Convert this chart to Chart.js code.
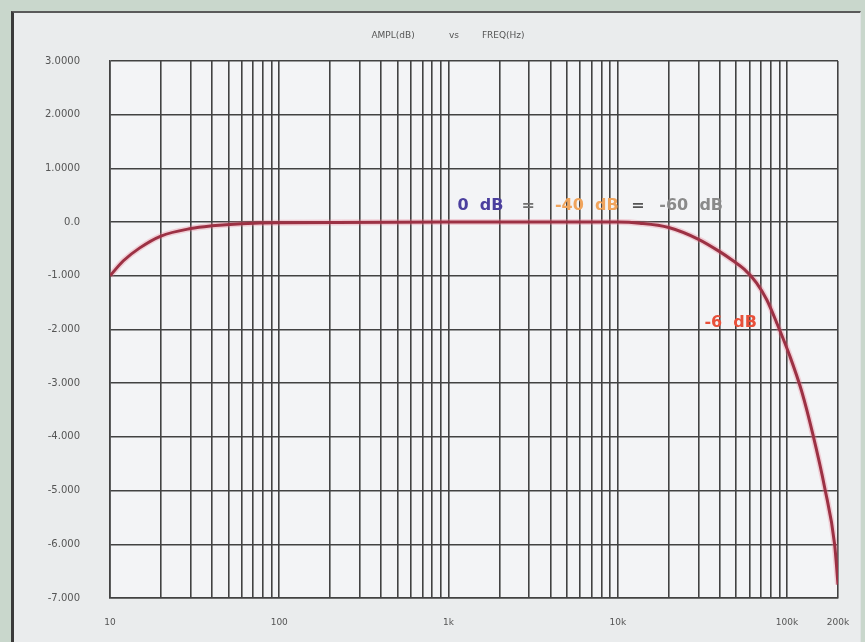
<!DOCTYPE html>
<html>
<head>
<meta charset="utf-8">
<script src="https://cdn.jsdelivr.net/npm/chart.js@4/dist/chart.umd.min.js"></script>
<style>
  html, body { margin: 0; padding: 0; }
  body { width: 865px; height: 642px; background: #c9d7cc; position: relative; overflow: hidden; }
  #frame { position: absolute; left: 11px; top: 11px; width: 846px; height: 640px;
           background: #eaeced; border-left: 3px solid #3a3a3a; border-top: 2px solid #5a5a5a;
           border-right: 1px solid #dfe3e3; }
  #myChart { position: absolute; left: 0; top: 0; }
</style>
</head>
<body>
<div id="frame"></div>
<canvas id="myChart" width="865" height="642"></canvas>
<script>
// amplitude response
var freqs = [10, 12, 15, 20, 30, 40, 60, 100, 1000, 10000, 13500, 20000, 30000, 40000, 48000, 56000, 66000, 76000, 87000, 104000, 122000, 142000, 167000, 191000, 200000];
var ampl  = [-1.0, -0.72, -0.48, -0.26, -0.12, -0.07, -0.03, -0.01, 0, 0, -0.02, -0.1, -0.32, -0.55, -0.72, -0.88, -1.13, -1.45, -1.88, -2.5, -3.15, -3.95, -4.95, -6.0, -6.75];

var xTickLabels = {10: '10', 100: '100', 1000: '1k', 10000: '10k', 100000: '100k', 200000: '200k'};
var yTickLabels = {3: '3.0000', 2: '2.0000', 1: '1.0000', 0: '0.0', '-1': '-1.000', '-2': '-2.000',
                   '-3': '-3.000', '-4': '-4.000', '-5': '-5.000', '-6': '-6.000', '-7': '-7.000'};

var titleText = 'AMPL(dB)            vs        FREQ(Hz)';

// text notes on the plot: [text, freq, dB, colour]
var notes = [
    ['0  dB', 1130, 0.3, '#4b3f9e'],
    ['=', 2700, 0.3, '#707070'],
    ['-40  dB', 4250, 0.3, '#f0a45c'],
    ['=', 12000, 0.3, '#555555'],
    ['-60  dB', 17600, 0.3, '#8a8a8a'],
    ['-6  dB', 32500, -1.87, '#e8503a']
];

var points = freqs.map(function (f, i) { return {x: f, y: ampl[i]}; });

// decade grid: 10,20..90,100,200..  up to 100k, then the 200k edge
var gridFreqs = [];
for (var d = 10; d < 100000; d *= 10) {
    for (var m = 1; m < 10; m++) gridFreqs.push(d * m);
}
gridFreqs.push(100000, 200000);

var plotBg = {
    id: 'plotBg',
    beforeDraw: function (chart) {
        var a = chart.chartArea, c = chart.ctx;
        c.save();
        c.fillStyle = '#f3f4f6';
        c.fillRect(a.left, a.top, a.right - a.left, a.bottom - a.top);
        // title sits a little left of the centre
        c.fillStyle = '#555';
        c.font = '9px "DejaVu Sans", sans-serif';
        c.textAlign = 'center';
        c.textBaseline = 'middle';
        c.fillText(titleText, (a.left + a.right) / 2 - 26, a.top - 25);
        c.restore();
    }
};

var notesPlugin = {
    id: 'notes',
    afterDatasetsDraw: function (chart) {
        var c = chart.ctx, xs = chart.scales.x, ys = chart.scales.y;
        c.save();
        c.font = 'bold 16px "DejaVu Sans", sans-serif';
        c.textBaseline = 'middle';
        c.textAlign = 'left';
        notes.forEach(function (n) {
            c.fillStyle = n[3];
            c.fillText(n[0], xs.getPixelForValue(n[1]), ys.getPixelForValue(n[2]));
        });
        c.restore();
    }
};

var ctx = document.getElementById('myChart').getContext('2d');
var chart = new Chart(ctx, {
    type: 'line',
    data: {
        datasets: [{
            // soft halo under the trace
            data: points,
            borderColor: 'rgba(235, 120, 140, 0.3)',
            borderWidth: 6,
            pointRadius: 0,
            cubicInterpolationMode: 'monotone'
        }, {
            data: points,
            borderColor: '#7a1426',
            borderWidth: 3,
            pointRadius: 0,
            cubicInterpolationMode: 'monotone'
        }]
    },
    options: {
        responsive: false,
        animation: false,
        layout: { padding: { left: 10, right: 27, top: 61, bottom: 0 } },
        plugins: {
            legend: { display: false },
            tooltip: { enabled: false },
            title: { display: false }
        },
        scales: {
            x: {
                type: 'logarithmic',
                min: 10,
                max: 200000,
                afterBuildTicks: function (s) {
                    s.ticks = gridFreqs.map(function (v) { return {value: v}; });
                },
                afterFit: function (s) {
                    s.height = 44;
                    s.paddingLeft = 0;
                    s.paddingRight = 0;
                },
                grid: { color: '#424242', lineWidth: 1.6, drawTicks: false },
                border: { color: '#424242', width: 1.6 },
                ticks: {
                    autoSkip: false,
                    maxRotation: 0,
                    padding: 19,
                    color: '#555',
                    font: { family: 'DejaVu Sans', size: 9 },
                    callback: function (v) { return xTickLabels[v] || ''; }
                }
            },
            y: {
                min: -7,
                max: 3,
                afterFit: function (s) { s.width = 100; },
                grid: { color: '#424242', lineWidth: 1.6, drawTicks: false },
                border: { color: '#424242', width: 1.6 },
                ticks: {
                    stepSize: 1,
                    padding: 30,
                    color: '#555',
                    font: { family: 'DejaVu Sans', size: 10 },
                    callback: function (v) { return yTickLabels[v]; }
                }
            }
        }
    },
    plugins: [plotBg, notesPlugin]
});
</script>
</body>
</html>
